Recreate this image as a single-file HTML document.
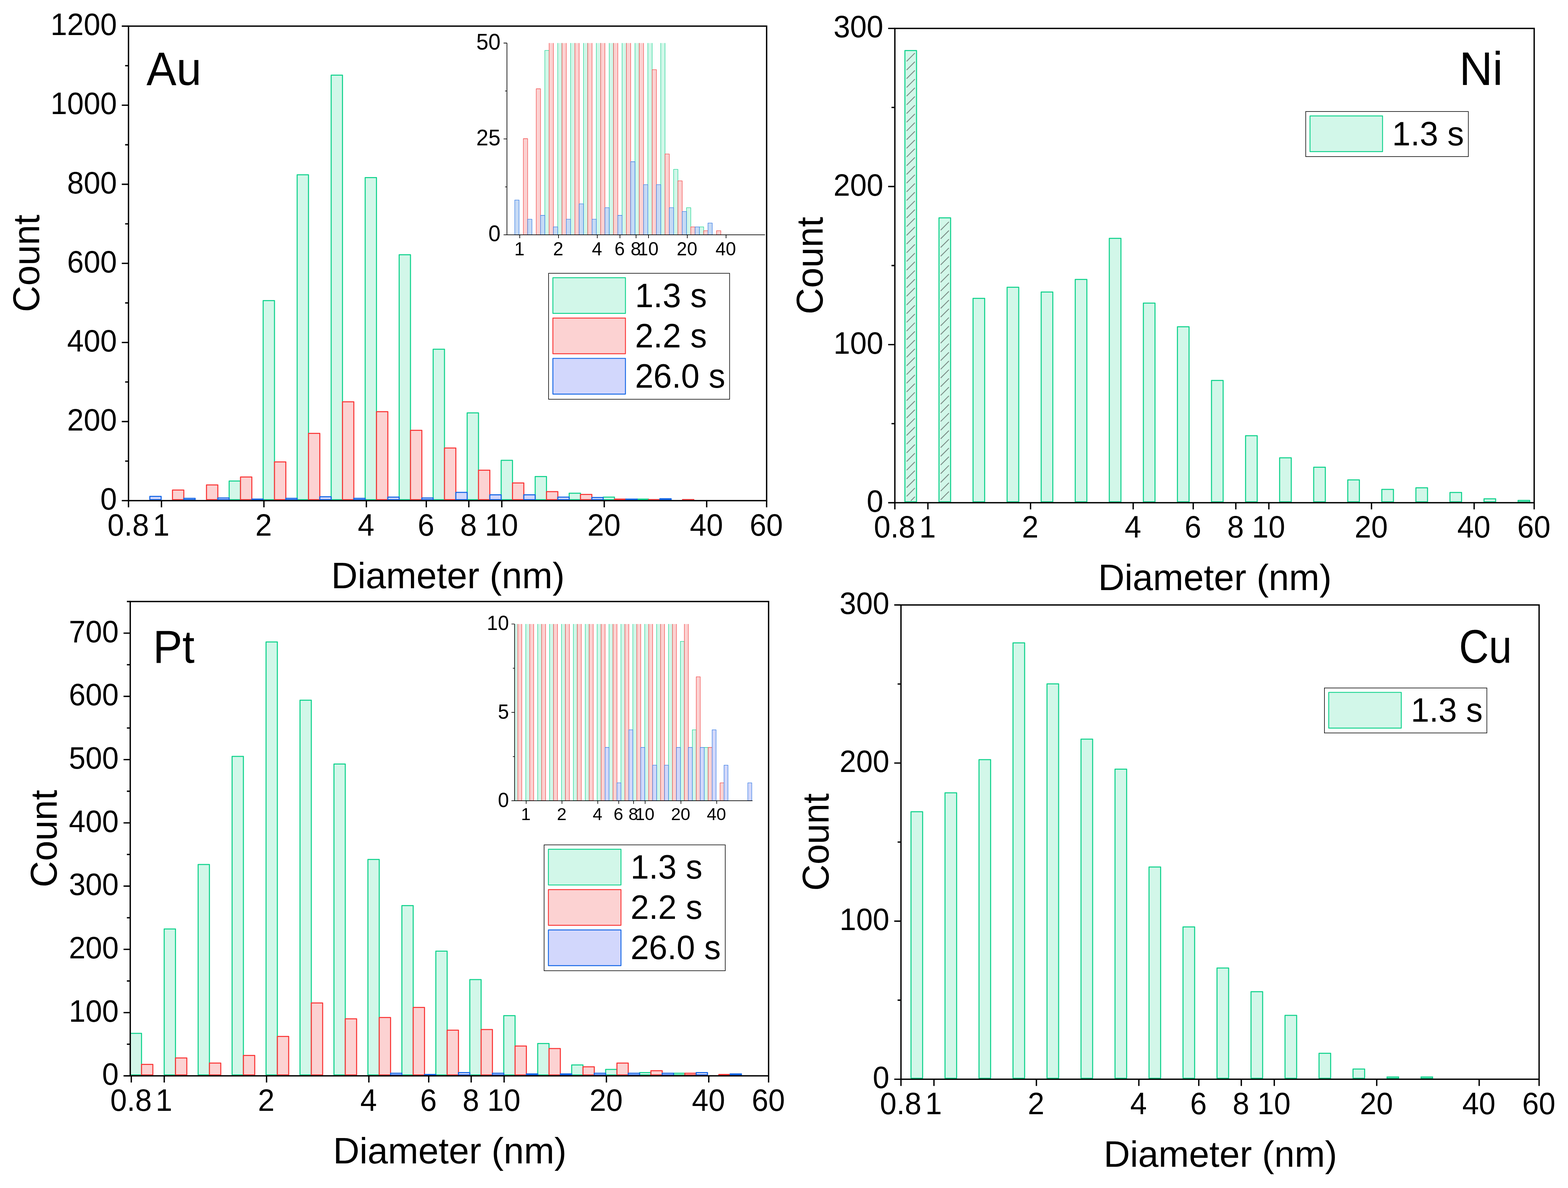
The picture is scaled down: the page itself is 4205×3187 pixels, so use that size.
<!DOCTYPE html>
<html lang="en"><head><meta charset="utf-8"><title>Particle diameter histograms: Au, Ni, Pt, Cu</title>
<style>html,body{margin:0;padding:0;background:#fff}svg{display:block}text{font-family:"Liberation Sans", Arial, sans-serif;fill:#000}</style>
</head><body>
<svg xmlns="http://www.w3.org/2000/svg" width="4205" height="3187" viewBox="0 0 4205 3187">
<rect width="4205" height="3187" fill="#fff"/>
<defs>
<clipPath id="c_au"><rect x="344.6" y="70.1" width="1711.3" height="1274.95"/></clipPath>
<clipPath id="c_pt"><rect x="349.3" y="1613.65" width="1711.9" height="1274.45"/></clipPath>
<clipPath id="c_ni"><rect x="2399.8" y="76.25" width="1714.5" height="1274.35"/></clipPath>
<clipPath id="c_cu"><rect x="2416.2" y="1622.9" width="1711.3" height="1274.3"/></clipPath>
</defs>
<g id="panel-au">
<g clip-path="url(#c_au)" stroke-width="2.75" stroke-linejoin="round">
<g fill="#D2F7E9" stroke="#0FD28C">
<rect x="614.54" y="1290.26" width="30.39" height="50.19"/>
<rect x="705.72" y="806.33" width="30.39" height="534.12"/>
<rect x="796.9" y="468.98" width="30.39" height="871.47"/>
<rect x="888.09" y="201.65" width="30.39" height="1138.8"/>
<rect x="979.27" y="476.4" width="30.39" height="864.05"/>
<rect x="1070.46" y="683.25" width="30.39" height="657.2"/>
<rect x="1161.64" y="936.82" width="30.39" height="403.63"/>
<rect x="1252.82" y="1107.55" width="30.39" height="232.9"/>
<rect x="1344.01" y="1234.87" width="30.39" height="105.58"/>
<rect x="1435.19" y="1278.29" width="30.39" height="62.16"/>
<rect x="1526.38" y="1323.09" width="30.39" height="17.36"/>
<rect x="1617.56" y="1333.69" width="30.39" height="6.76"/>
<rect x="1708.75" y="1338.98" width="30.39" height="1.47"/>
</g>
<g fill="#FCD2D2" stroke="#FA3434">
<rect x="462.56" y="1314.62" width="30.39" height="25.83"/>
<rect x="553.75" y="1300.85" width="30.39" height="39.6"/>
<rect x="644.93" y="1279.67" width="30.39" height="60.78"/>
<rect x="736.11" y="1239.1" width="30.39" height="101.35"/>
<rect x="827.3" y="1162.74" width="30.39" height="177.71"/>
<rect x="918.48" y="1077.9" width="30.39" height="262.55"/>
<rect x="1009.67" y="1104.38" width="30.39" height="236.07"/>
<rect x="1100.85" y="1154.26" width="30.39" height="186.19"/>
<rect x="1192.04" y="1201.93" width="30.39" height="138.52"/>
<rect x="1283.22" y="1261.34" width="30.39" height="79.11"/>
<rect x="1374.4" y="1295.56" width="30.39" height="44.89"/>
<rect x="1465.59" y="1318.86" width="30.39" height="21.59"/>
<rect x="1556.77" y="1326.27" width="30.39" height="14.18"/>
<rect x="1647.96" y="1338.98" width="30.39" height="1.47"/>
<rect x="1739.14" y="1340.04" width="30.39" height="0.41"/>
<rect x="1830.32" y="1340.04" width="30.39" height="0.41"/>
</g>
<g fill="#D2D7FC" stroke="#1064E6">
<rect x="401.77" y="1331.57" width="30.39" height="8.88"/>
<rect x="492.96" y="1336.86" width="30.39" height="3.59"/>
<rect x="584.14" y="1335.8" width="30.39" height="4.65"/>
<rect x="675.32" y="1338.98" width="30.39" height="1.47"/>
<rect x="766.51" y="1336.86" width="30.39" height="3.59"/>
<rect x="857.69" y="1332.63" width="30.39" height="7.82"/>
<rect x="948.88" y="1336.86" width="30.39" height="3.59"/>
<rect x="1040.06" y="1333.69" width="30.39" height="6.76"/>
<rect x="1131.25" y="1335.8" width="30.39" height="4.65"/>
<rect x="1222.43" y="1320.98" width="30.39" height="19.47"/>
<rect x="1313.61" y="1327.33" width="30.39" height="13.12"/>
<rect x="1404.8" y="1327.33" width="30.39" height="13.12"/>
<rect x="1495.98" y="1333.69" width="30.39" height="6.76"/>
<rect x="1587.17" y="1334.74" width="30.39" height="5.71"/>
<rect x="1678.35" y="1338.98" width="30.39" height="1.47"/>
<rect x="1769.54" y="1337.92" width="30.39" height="2.53"/>
</g>
</g>
<g stroke="#000" stroke-width="3.6" fill="none">
<rect x="344.6" y="70.1" width="1711.3" height="1272.95"/>
<path d="M344.6 1343.05v18M433.05 1343.05v18M707.79 1343.05v18M982.52 1343.05v18M1143.24 1343.05v18M1257.26 1343.05v18M1345.71 1343.05v18M1620.45 1343.05v18M1895.19 1343.05v18M2055.9 1343.05v18M344.6 1343.05h-18M344.6 1236.97h-9M344.6 1130.89h-18M344.6 1024.81h-9M344.6 918.73h-18M344.6 812.65h-9M344.6 706.57h-18M344.6 600.5h-9M344.6 494.42h-18M344.6 388.34h-9M344.6 282.26h-18M344.6 176.18h-9M344.6 70.1h-18"/>
</g>
<text transform="translate(343.8 1436.55) scale(1 1.04)" font-size="80" text-anchor="middle">0.8</text>
<text transform="translate(432.25 1436.55) scale(1 1.04)" font-size="80" text-anchor="middle">1</text>
<text transform="translate(706.99 1436.55) scale(1 1.04)" font-size="80" text-anchor="middle">2</text>
<text transform="translate(981.72 1436.55) scale(1 1.04)" font-size="80" text-anchor="middle">4</text>
<text transform="translate(1142.44 1436.55) scale(1 1.04)" font-size="80" text-anchor="middle">6</text>
<text transform="translate(1256.46 1436.55) scale(1 1.04)" font-size="80" text-anchor="middle">8</text>
<text transform="translate(1344.91 1436.55) scale(1 1.04)" font-size="80" text-anchor="middle">10</text>
<text transform="translate(1619.65 1436.55) scale(1 1.04)" font-size="80" text-anchor="middle">20</text>
<text transform="translate(1894.39 1436.55) scale(1 1.04)" font-size="80" text-anchor="middle">40</text>
<text transform="translate(2055.1 1436.55) scale(1 1.04)" font-size="80" text-anchor="middle">60</text>
<text transform="translate(313.5 1367.25) scale(1 1.04)" font-size="80" text-anchor="end">0</text>
<text transform="translate(313.5 1155.09) scale(1 1.04)" font-size="80" text-anchor="end">200</text>
<text transform="translate(313.5 942.93) scale(1 1.04)" font-size="80" text-anchor="end">400</text>
<text transform="translate(313.5 730.77) scale(1 1.04)" font-size="80" text-anchor="end">600</text>
<text transform="translate(313.5 518.62) scale(1 1.04)" font-size="80" text-anchor="end">800</text>
<text transform="translate(313.5 306.46) scale(1 1.04)" font-size="80" text-anchor="end">1000</text>
<text transform="translate(313.5 94.3) scale(1 1.04)" font-size="80" text-anchor="end">1200</text>
<text transform="translate(1201.25 1577.55) scale(1 1.01)" font-size="98" text-anchor="middle">Diameter (nm)</text>
<text transform="translate(105.3 706.57) rotate(-90) scale(1 1.025)" font-size="98" text-anchor="middle">Count</text>
<text transform="translate(392.76 228.14) scale(1 1.0479)" font-size="120.52" text-anchor="start">Au</text>
<clipPath id="ci_au"><rect x="1359.5" y="115.5" width="692" height="515.4"/></clipPath>
<g clip-path="url(#ci_au)" stroke-width="1.3" stroke-linejoin="round">
<g fill="#D2F7E9" stroke="#22D494">
<rect x="1461.08" y="135.38" width="11.51" height="494.22"/>
<rect x="1495.62" y="11.92" width="11.51" height="617.68"/>
<rect x="1530.16" y="11.92" width="11.51" height="617.68"/>
<rect x="1564.7" y="11.92" width="11.51" height="617.68"/>
<rect x="1599.24" y="11.92" width="11.51" height="617.68"/>
<rect x="1633.78" y="11.92" width="11.51" height="617.68"/>
<rect x="1668.32" y="11.92" width="11.51" height="617.68"/>
<rect x="1702.86" y="11.92" width="11.51" height="617.68"/>
<rect x="1737.4" y="11.92" width="11.51" height="617.68"/>
<rect x="1771.94" y="19.12" width="11.51" height="610.48"/>
<rect x="1806.48" y="454.3" width="11.51" height="175.3"/>
<rect x="1841.02" y="557.18" width="11.51" height="72.42"/>
<rect x="1875.56" y="608.62" width="11.51" height="20.98"/>
</g>
<g fill="#FCD2D2" stroke="#F24A4A">
<rect x="1403.51" y="372" width="11.51" height="257.6"/>
<rect x="1438.05" y="238.26" width="11.51" height="391.34"/>
<rect x="1472.59" y="32.5" width="11.51" height="597.1"/>
<rect x="1507.13" y="11.92" width="11.51" height="617.68"/>
<rect x="1541.67" y="11.92" width="11.51" height="617.68"/>
<rect x="1576.21" y="11.92" width="11.51" height="617.68"/>
<rect x="1610.75" y="11.92" width="11.51" height="617.68"/>
<rect x="1645.29" y="11.92" width="11.51" height="617.68"/>
<rect x="1679.83" y="11.92" width="11.51" height="617.68"/>
<rect x="1714.37" y="11.92" width="11.51" height="617.68"/>
<rect x="1748.91" y="186.82" width="11.51" height="442.78"/>
<rect x="1783.45" y="413.15" width="11.51" height="216.45"/>
<rect x="1817.99" y="485.17" width="11.51" height="144.43"/>
<rect x="1852.53" y="608.62" width="11.51" height="20.98"/>
<rect x="1887.07" y="618.91" width="11.51" height="10.69"/>
<rect x="1921.61" y="618.91" width="11.51" height="10.69"/>
</g>
<g fill="#C6DAF5" stroke="#3A7EE6">
<rect x="1380.49" y="536.61" width="11.51" height="92.99"/>
<rect x="1415.03" y="588.05" width="11.51" height="41.55"/>
<rect x="1449.57" y="577.76" width="11.51" height="51.84"/>
<rect x="1484.11" y="608.62" width="11.51" height="20.98"/>
<rect x="1518.65" y="588.05" width="11.51" height="41.55"/>
<rect x="1553.19" y="546.9" width="11.51" height="82.7"/>
<rect x="1587.73" y="588.05" width="11.51" height="41.55"/>
<rect x="1622.27" y="557.18" width="11.51" height="72.42"/>
<rect x="1656.81" y="577.76" width="11.51" height="51.84"/>
<rect x="1691.35" y="433.73" width="11.51" height="195.87"/>
<rect x="1725.89" y="495.46" width="11.51" height="134.14"/>
<rect x="1760.43" y="495.46" width="11.51" height="134.14"/>
<rect x="1794.97" y="557.18" width="11.51" height="72.42"/>
<rect x="1829.51" y="567.47" width="11.51" height="62.13"/>
<rect x="1864.05" y="608.62" width="11.51" height="20.98"/>
<rect x="1898.59" y="598.34" width="11.51" height="31.26"/>
</g>
</g>
<path d="M1359.5 115.5V629.9M1350.5 629.9H2051.5M1393.8 629.9v9M1497.78 629.9v9M1601.75 629.9v9M1662.57 629.9v9M1705.73 629.9v9M1739.2 629.9v9M1843.18 629.9v9M1947.15 629.9v9M1359.5 372.7h-9M1359.5 115.5h-9M1359.5 501.3h-5M1359.5 244.1h-5" stroke="#000" stroke-width="1.8" fill="none"/>
<text transform="translate(1393 685.1)" font-size="49.5" text-anchor="middle">1</text>
<text transform="translate(1496.98 685.1)" font-size="49.5" text-anchor="middle">2</text>
<text transform="translate(1600.95 685.1)" font-size="49.5" text-anchor="middle">4</text>
<text transform="translate(1661.77 685.1)" font-size="49.5" text-anchor="middle">6</text>
<text transform="translate(1704.93 685.1)" font-size="49.5" text-anchor="middle">8</text>
<text transform="translate(1738.4 685.1)" font-size="49.5" text-anchor="middle">10</text>
<text transform="translate(1842.38 685.1)" font-size="49.5" text-anchor="middle">20</text>
<text transform="translate(1946.35 685.1)" font-size="49.5" text-anchor="middle">40</text>
<text transform="translate(1342.2 647.2) scale(1 1.04)" font-size="58.5" text-anchor="end">0</text>
<text transform="translate(1342.2 390) scale(1 1.04)" font-size="58.5" text-anchor="end">25</text>
<text transform="translate(1342.2 132.8) scale(1 1.04)" font-size="58.5" text-anchor="end">50</text>
<rect x="1471.2" y="733.2" width="485.4" height="337.9" fill="#fff" stroke="#000" stroke-width="1.6"/>
<rect x="1482.7" y="745" width="194.6" height="95.8" fill="#D2F7E9" stroke="#0FD28C" stroke-width="2.4" stroke-linejoin="round"/>
<text transform="translate(1702.9 823.5) scale(1 1.03)" font-size="88.9" text-anchor="start">1.3 s</text>
<rect x="1482.7" y="853.2" width="194.6" height="95.8" fill="#FCD2D2" stroke="#FA3434" stroke-width="2.4" stroke-linejoin="round"/>
<text transform="translate(1702.9 931.7) scale(1 1.03)" font-size="88.9" text-anchor="start">2.2 s</text>
<rect x="1482.7" y="961.4" width="194.6" height="95.8" fill="#D2D7FC" stroke="#1064E6" stroke-width="2.4" stroke-linejoin="round"/>
<text transform="translate(1702.9 1039.9) scale(1 1.03)" font-size="88.9" text-anchor="start">26.0 s</text>
</g>
<g id="panel-pt">
<g clip-path="url(#c_pt)" stroke-width="2.75" stroke-linejoin="round">
<g fill="#D2F7E9" stroke="#0FD28C">
<rect x="349.2" y="2772.01" width="30.36" height="111.49"/>
<rect x="440.27" y="2492.16" width="30.36" height="391.34"/>
<rect x="531.33" y="2319.2" width="30.36" height="564.3"/>
<rect x="622.4" y="2029.19" width="30.36" height="854.31"/>
<rect x="713.46" y="1722.24" width="30.36" height="1161.26"/>
<rect x="804.53" y="1878.25" width="30.36" height="1005.25"/>
<rect x="895.6" y="2049.52" width="30.36" height="833.98"/>
<rect x="986.66" y="2305.65" width="30.36" height="577.85"/>
<rect x="1077.73" y="2429.48" width="30.36" height="454.02"/>
<rect x="1168.79" y="2551.62" width="30.36" height="331.88"/>
<rect x="1259.86" y="2627.85" width="30.36" height="255.65"/>
<rect x="1350.93" y="2724.58" width="30.36" height="158.92"/>
<rect x="1441.99" y="2799.28" width="30.36" height="84.22"/>
<rect x="1533.06" y="2856.88" width="30.36" height="26.62"/>
<rect x="1624.13" y="2868.9" width="30.36" height="14.6"/>
<rect x="1715.19" y="2877.37" width="30.36" height="6.13"/>
<rect x="1806.26" y="2879.07" width="30.36" height="4.43"/>
</g>
<g fill="#FCD2D2" stroke="#FA3434">
<rect x="379.56" y="2855.35" width="30.36" height="28.15"/>
<rect x="470.62" y="2838.24" width="30.36" height="45.26"/>
<rect x="561.69" y="2851.79" width="30.36" height="31.71"/>
<rect x="652.75" y="2831.47" width="30.36" height="52.03"/>
<rect x="743.82" y="2780.48" width="30.36" height="103.02"/>
<rect x="834.89" y="2690.7" width="30.36" height="192.8"/>
<rect x="925.95" y="2733.05" width="30.36" height="150.45"/>
<rect x="1017.02" y="2729.66" width="30.36" height="153.84"/>
<rect x="1108.08" y="2702.55" width="30.36" height="180.95"/>
<rect x="1199.15" y="2763.54" width="30.36" height="119.96"/>
<rect x="1290.22" y="2761.84" width="30.36" height="121.66"/>
<rect x="1381.28" y="2806.06" width="30.36" height="77.44"/>
<rect x="1472.35" y="2812.83" width="30.36" height="70.67"/>
<rect x="1563.41" y="2861.96" width="30.36" height="21.54"/>
<rect x="1654.48" y="2851.79" width="30.36" height="31.71"/>
<rect x="1745.55" y="2872.29" width="30.36" height="11.21"/>
<rect x="1836.61" y="2879.07" width="30.36" height="4.43"/>
<rect x="1927.68" y="2882.46" width="30.36" height="1.04"/>
</g>
<g fill="#D2D7FC" stroke="#1064E6">
<rect x="1047.37" y="2879.07" width="30.36" height="4.43"/>
<rect x="1138.44" y="2882.46" width="30.36" height="1.04"/>
<rect x="1229.51" y="2877.37" width="30.36" height="6.13"/>
<rect x="1320.57" y="2879.07" width="30.36" height="4.43"/>
<rect x="1411.64" y="2880.76" width="30.36" height="2.74"/>
<rect x="1502.7" y="2880.76" width="30.36" height="2.74"/>
<rect x="1593.77" y="2879.07" width="30.36" height="4.43"/>
<rect x="1684.84" y="2879.07" width="30.36" height="4.43"/>
<rect x="1775.9" y="2879.07" width="30.36" height="4.43"/>
<rect x="1866.97" y="2877.37" width="30.36" height="6.13"/>
<rect x="1958.03" y="2880.76" width="30.36" height="2.74"/>
<rect x="2140.17" y="2882.46" width="30.36" height="1.04"/>
</g>
</g>
<g stroke="#000" stroke-width="3.6" fill="none">
<rect x="349.3" y="1613.65" width="1711.9" height="1272.45"/>
<path d="M352.12 2886.1v18M440.45 2886.1v18M714.83 2886.1v18M989.21 2886.1v18M1149.72 2886.1v18M1263.6 2886.1v18M1351.93 2886.1v18M1626.31 2886.1v18M1900.7 2886.1v18M2061.2 2886.1v18M349.3 2886.1h-18M349.3 2801.27h-9M349.3 2716.44h-18M349.3 2631.61h-9M349.3 2546.78h-18M349.3 2461.95h-9M349.3 2377.12h-18M349.3 2292.29h-9M349.3 2207.46h-18M349.3 2122.63h-9M349.3 2037.8h-18M349.3 1952.97h-9M349.3 1868.14h-18M349.3 1783.31h-9M349.3 1698.48h-18M349.3 1613.65h-9"/>
</g>
<text transform="translate(351.32 2979.6) scale(1 1.04)" font-size="80" text-anchor="middle">0.8</text>
<text transform="translate(439.65 2979.6) scale(1 1.04)" font-size="80" text-anchor="middle">1</text>
<text transform="translate(714.03 2979.6) scale(1 1.04)" font-size="80" text-anchor="middle">2</text>
<text transform="translate(988.41 2979.6) scale(1 1.04)" font-size="80" text-anchor="middle">4</text>
<text transform="translate(1148.92 2979.6) scale(1 1.04)" font-size="80" text-anchor="middle">6</text>
<text transform="translate(1262.8 2979.6) scale(1 1.04)" font-size="80" text-anchor="middle">8</text>
<text transform="translate(1351.13 2979.6) scale(1 1.04)" font-size="80" text-anchor="middle">10</text>
<text transform="translate(1625.51 2979.6) scale(1 1.04)" font-size="80" text-anchor="middle">20</text>
<text transform="translate(1899.9 2979.6) scale(1 1.04)" font-size="80" text-anchor="middle">40</text>
<text transform="translate(2060.4 2979.6) scale(1 1.04)" font-size="80" text-anchor="middle">60</text>
<text transform="translate(318.2 2910.3) scale(1 1.04)" font-size="80" text-anchor="end">0</text>
<text transform="translate(318.2 2740.64) scale(1 1.04)" font-size="80" text-anchor="end">100</text>
<text transform="translate(318.2 2570.98) scale(1 1.04)" font-size="80" text-anchor="end">200</text>
<text transform="translate(318.2 2401.32) scale(1 1.04)" font-size="80" text-anchor="end">300</text>
<text transform="translate(318.2 2231.66) scale(1 1.04)" font-size="80" text-anchor="end">400</text>
<text transform="translate(318.2 2062) scale(1 1.04)" font-size="80" text-anchor="end">500</text>
<text transform="translate(318.2 1892.34) scale(1 1.04)" font-size="80" text-anchor="end">600</text>
<text transform="translate(318.2 1722.68) scale(1 1.04)" font-size="80" text-anchor="end">700</text>
<text transform="translate(1206.25 3120.6) scale(1 1.01)" font-size="98" text-anchor="middle">Diameter (nm)</text>
<text transform="translate(152.3 2249.88) rotate(-90) scale(1 1.025)" font-size="98" text-anchor="middle">Count</text>
<text transform="translate(410.15 1777.79) scale(1 1.058)" font-size="118.12" text-anchor="start">Pt</text>
<clipPath id="ci_pt"><rect x="1380" y="1674" width="638" height="475.2"/></clipPath>
<g clip-path="url(#ci_pt)" stroke-width="1.3" stroke-linejoin="round">
<g fill="#D2F7E9" stroke="#22D494">
<rect x="1378.1" y="1578.46" width="10.63" height="569.44"/>
<rect x="1410" y="1578.46" width="10.63" height="569.44"/>
<rect x="1441.9" y="1578.46" width="10.63" height="569.44"/>
<rect x="1473.8" y="1578.46" width="10.63" height="569.44"/>
<rect x="1505.7" y="1578.46" width="10.63" height="569.44"/>
<rect x="1537.6" y="1578.46" width="10.63" height="569.44"/>
<rect x="1569.5" y="1578.46" width="10.63" height="569.44"/>
<rect x="1601.4" y="1578.46" width="10.63" height="569.44"/>
<rect x="1633.3" y="1578.46" width="10.63" height="569.44"/>
<rect x="1665.2" y="1578.46" width="10.63" height="569.44"/>
<rect x="1697.1" y="1578.46" width="10.63" height="569.44"/>
<rect x="1729" y="1578.46" width="10.63" height="569.44"/>
<rect x="1760.9" y="1578.46" width="10.63" height="569.44"/>
<rect x="1792.8" y="1578.46" width="10.63" height="569.44"/>
<rect x="1824.7" y="1720.72" width="10.63" height="427.18"/>
<rect x="1856.6" y="1957.82" width="10.63" height="190.08"/>
<rect x="1888.5" y="2005.24" width="10.63" height="142.66"/>
</g>
<g fill="#FCD2D2" stroke="#F24A4A">
<rect x="1388.73" y="1578.46" width="10.63" height="569.44"/>
<rect x="1420.63" y="1578.46" width="10.63" height="569.44"/>
<rect x="1452.53" y="1578.46" width="10.63" height="569.44"/>
<rect x="1484.43" y="1578.46" width="10.63" height="569.44"/>
<rect x="1516.33" y="1578.46" width="10.63" height="569.44"/>
<rect x="1548.23" y="1578.46" width="10.63" height="569.44"/>
<rect x="1580.13" y="1578.46" width="10.63" height="569.44"/>
<rect x="1612.03" y="1578.46" width="10.63" height="569.44"/>
<rect x="1643.93" y="1578.46" width="10.63" height="569.44"/>
<rect x="1675.83" y="1578.46" width="10.63" height="569.44"/>
<rect x="1707.73" y="1578.46" width="10.63" height="569.44"/>
<rect x="1739.63" y="1578.46" width="10.63" height="569.44"/>
<rect x="1771.53" y="1578.46" width="10.63" height="569.44"/>
<rect x="1803.43" y="1578.46" width="10.63" height="569.44"/>
<rect x="1835.33" y="1578.46" width="10.63" height="569.44"/>
<rect x="1867.23" y="1815.56" width="10.63" height="332.34"/>
<rect x="1899.13" y="2005.24" width="10.63" height="142.66"/>
<rect x="1931.03" y="2100.08" width="10.63" height="47.82"/>
</g>
<g fill="#D2D8FA" stroke="#3A7EE6">
<rect x="1622.67" y="2005.24" width="10.63" height="142.66"/>
<rect x="1654.57" y="2100.08" width="10.63" height="47.82"/>
<rect x="1686.47" y="1957.82" width="10.63" height="190.08"/>
<rect x="1718.37" y="2005.24" width="10.63" height="142.66"/>
<rect x="1750.27" y="2052.66" width="10.63" height="95.24"/>
<rect x="1782.17" y="2052.66" width="10.63" height="95.24"/>
<rect x="1814.07" y="2005.24" width="10.63" height="142.66"/>
<rect x="1845.97" y="2005.24" width="10.63" height="142.66"/>
<rect x="1877.87" y="2005.24" width="10.63" height="142.66"/>
<rect x="1909.77" y="1957.82" width="10.63" height="190.08"/>
<rect x="1941.67" y="2052.66" width="10.63" height="95.24"/>
<rect x="2005.47" y="2100.08" width="10.63" height="47.82"/>
</g>
</g>
<path d="M1380 1674V2148.2M1371.6 2148.2H2018M1411.1 2148.2v8.4M1507.13 2148.2v8.4M1603.16 2148.2v8.4M1659.33 2148.2v8.4M1699.19 2148.2v8.4M1730.1 2148.2v8.4M1826.13 2148.2v8.4M1922.16 2148.2v8.4M1380 1911.1h-8.4M1380 1674h-8.4M1380 2029.65h-4.6M1380 1792.55h-4.6" stroke="#000" stroke-width="1.7" fill="none"/>
<text transform="translate(1410.3 2200.1)" font-size="46.5" text-anchor="middle">1</text>
<text transform="translate(1506.33 2200.1)" font-size="46.5" text-anchor="middle">2</text>
<text transform="translate(1602.36 2200.1)" font-size="46.5" text-anchor="middle">4</text>
<text transform="translate(1658.53 2200.1)" font-size="46.5" text-anchor="middle">6</text>
<text transform="translate(1698.39 2200.1)" font-size="46.5" text-anchor="middle">8</text>
<text transform="translate(1729.3 2200.1)" font-size="46.5" text-anchor="middle">10</text>
<text transform="translate(1825.33 2200.1)" font-size="46.5" text-anchor="middle">20</text>
<text transform="translate(1921.36 2200.1)" font-size="46.5" text-anchor="middle">40</text>
<text transform="translate(1364.8 2164.6) scale(1 1.04)" font-size="53.3" text-anchor="end">0</text>
<text transform="translate(1364.8 1927.5) scale(1 1.04)" font-size="53.3" text-anchor="end">5</text>
<text transform="translate(1364.8 1690.4) scale(1 1.04)" font-size="53.3" text-anchor="end">10</text>
<rect x="1459.2" y="2266.5" width="485.7" height="337.7" fill="#fff" stroke="#000" stroke-width="1.6"/>
<rect x="1470.7" y="2278.3" width="194.6" height="95.8" fill="#D2F7E9" stroke="#0FD28C" stroke-width="2.4" stroke-linejoin="round"/>
<text transform="translate(1690.9 2356.8) scale(1 1.03)" font-size="88.9" text-anchor="start">1.3 s</text>
<rect x="1470.7" y="2386.5" width="194.6" height="95.8" fill="#FCD2D2" stroke="#FA3434" stroke-width="2.4" stroke-linejoin="round"/>
<text transform="translate(1690.9 2465) scale(1 1.03)" font-size="88.9" text-anchor="start">2.2 s</text>
<rect x="1470.7" y="2494.7" width="194.6" height="95.8" fill="#D2D7FC" stroke="#1064E6" stroke-width="2.4" stroke-linejoin="round"/>
<text transform="translate(1690.9 2573.2) scale(1 1.03)" font-size="88.9" text-anchor="start">26.0 s</text>
</g>
<g id="panel-ni">
<g clip-path="url(#c_ni)" stroke-width="2.75" stroke="#0FD28C" stroke-linejoin="round">
<rect x="2426.75" y="135.54" width="31.2" height="1210.46" fill="#D2F7E9"/>
<path d="M2431.95 163.78L2452.75 142.98M2431.95 187.12L2452.75 166.32M2431.95 210.46L2452.75 189.66M2431.95 233.8L2452.75 213M2431.95 257.14L2452.75 236.34M2431.95 280.48L2452.75 259.68M2431.95 303.82L2452.75 283.02M2431.95 327.16L2452.75 306.36M2431.95 350.5L2452.75 329.7M2431.95 373.84L2452.75 353.04M2431.95 397.18L2452.75 376.38M2431.95 420.52L2452.75 399.72M2431.95 443.86L2452.75 423.06M2431.95 467.2L2452.75 446.4M2431.95 490.54L2452.75 469.74M2431.95 513.88L2452.75 493.08M2431.95 537.22L2452.75 516.42M2431.95 560.56L2452.75 539.76M2431.95 583.9L2452.75 563.1M2431.95 607.24L2452.75 586.44M2431.95 630.58L2452.75 609.78M2431.95 653.92L2452.75 633.12M2431.95 677.26L2452.75 656.46M2431.95 700.6L2452.75 679.8M2431.95 723.94L2452.75 703.14M2431.95 747.28L2452.75 726.48M2431.95 770.62L2452.75 749.82M2431.95 793.96L2452.75 773.16M2431.95 817.3L2452.75 796.5M2431.95 840.64L2452.75 819.84M2431.95 863.98L2452.75 843.18M2431.95 887.32L2452.75 866.52M2431.95 910.66L2452.75 889.86M2431.95 934L2452.75 913.2M2431.95 957.34L2452.75 936.54M2431.95 980.68L2452.75 959.88M2431.95 1004.02L2452.75 983.22M2431.95 1027.36L2452.75 1006.56M2431.95 1050.7L2452.75 1029.9M2431.95 1074.04L2452.75 1053.24M2431.95 1097.38L2452.75 1076.58M2431.95 1120.72L2452.75 1099.92M2431.95 1144.06L2452.75 1123.26M2431.95 1167.4L2452.75 1146.6M2431.95 1190.74L2452.75 1169.94M2431.95 1214.08L2452.75 1193.28M2431.95 1237.42L2452.75 1216.62M2431.95 1260.76L2452.75 1239.96M2431.95 1284.1L2452.75 1263.3M2431.95 1307.44L2452.75 1286.64M2431.95 1330.78L2452.75 1309.98M2443.27 1342.8L2452.75 1333.32" fill="none" stroke="#7C8C86" stroke-width="2.4" stroke-linecap="round"/>
<rect x="2518.11" y="584.41" width="31.2" height="761.59" fill="#D2F7E9"/>
<path d="M2523.31 616.54L2544.11 595.74M2523.31 639.88L2544.11 619.08M2523.31 663.22L2544.11 642.42M2523.31 686.56L2544.11 665.76M2523.31 709.9L2544.11 689.1M2523.31 733.24L2544.11 712.44M2523.31 756.58L2544.11 735.78M2523.31 779.92L2544.11 759.12M2523.31 803.26L2544.11 782.46M2523.31 826.6L2544.11 805.8M2523.31 849.94L2544.11 829.14M2523.31 873.28L2544.11 852.48M2523.31 896.62L2544.11 875.82M2523.31 919.96L2544.11 899.16M2523.31 943.3L2544.11 922.5M2523.31 966.64L2544.11 945.84M2523.31 989.98L2544.11 969.18M2523.31 1013.32L2544.11 992.52M2523.31 1036.66L2544.11 1015.86M2523.31 1060L2544.11 1039.2M2523.31 1083.34L2544.11 1062.54M2523.31 1106.68L2544.11 1085.88M2523.31 1130.02L2544.11 1109.22M2523.31 1153.36L2544.11 1132.56M2523.31 1176.7L2544.11 1155.9M2523.31 1200.04L2544.11 1179.24M2523.31 1223.38L2544.11 1202.58M2523.31 1246.72L2544.11 1225.92M2523.31 1270.06L2544.11 1249.26M2523.31 1293.4L2544.11 1272.6M2523.31 1316.74L2544.11 1295.94M2523.31 1340.08L2544.11 1319.28" fill="none" stroke="#7C8C86" stroke-width="2.4" stroke-linecap="round"/>
<rect x="2609.46" y="800.38" width="31.2" height="545.62" fill="#D2F7E9"/>
<rect x="2700.82" y="770.74" width="31.2" height="575.26" fill="#D2F7E9"/>
<rect x="2792.17" y="783.44" width="31.2" height="562.56" fill="#D2F7E9"/>
<rect x="2883.53" y="749.56" width="31.2" height="596.44" fill="#D2F7E9"/>
<rect x="2974.88" y="639.46" width="31.2" height="706.54" fill="#D2F7E9"/>
<rect x="3066.24" y="813.08" width="31.2" height="532.92" fill="#D2F7E9"/>
<rect x="3157.59" y="876.6" width="31.2" height="469.4" fill="#D2F7E9"/>
<rect x="3248.95" y="1020.58" width="31.2" height="325.42" fill="#D2F7E9"/>
<rect x="3340.3" y="1168.79" width="31.2" height="177.21" fill="#D2F7E9"/>
<rect x="3431.66" y="1228.08" width="31.2" height="117.92" fill="#D2F7E9"/>
<rect x="3523.01" y="1253.49" width="31.2" height="92.51" fill="#D2F7E9"/>
<rect x="3614.37" y="1287.36" width="31.2" height="58.64" fill="#D2F7E9"/>
<rect x="3705.72" y="1312.77" width="31.2" height="33.23" fill="#D2F7E9"/>
<rect x="3797.08" y="1308.54" width="31.2" height="37.46" fill="#D2F7E9"/>
<rect x="3888.43" y="1321.24" width="31.2" height="24.76" fill="#D2F7E9"/>
<rect x="3979.78" y="1338.18" width="31.2" height="7.82" fill="#D2F7E9"/>
<rect x="4071.14" y="1342.42" width="31.2" height="3.58" fill="#D2F7E9"/>
</g>
<g stroke="#000" stroke-width="3.6" fill="none">
<rect x="2399.8" y="76.25" width="1714.5" height="1272.35"/>
<path d="M2399.8 1348.6v18M2488.41 1348.6v18M2763.66 1348.6v18M3038.92 1348.6v18M3199.93 1348.6v18M3314.17 1348.6v18M3402.78 1348.6v18M3678.03 1348.6v18M3953.29 1348.6v18M4114.3 1348.6v18M2399.8 1348.6h-18M2399.8 1136.54h-9M2399.8 924.48h-18M2399.8 712.42h-9M2399.8 500.37h-18M2399.8 288.31h-9M2399.8 76.25h-18"/>
</g>
<text transform="translate(2399 1442.1) scale(1 1.04)" font-size="80" text-anchor="middle">0.8</text>
<text transform="translate(2487.61 1442.1) scale(1 1.04)" font-size="80" text-anchor="middle">1</text>
<text transform="translate(2762.86 1442.1) scale(1 1.04)" font-size="80" text-anchor="middle">2</text>
<text transform="translate(3038.12 1442.1) scale(1 1.04)" font-size="80" text-anchor="middle">4</text>
<text transform="translate(3199.13 1442.1) scale(1 1.04)" font-size="80" text-anchor="middle">6</text>
<text transform="translate(3313.37 1442.1) scale(1 1.04)" font-size="80" text-anchor="middle">8</text>
<text transform="translate(3401.98 1442.1) scale(1 1.04)" font-size="80" text-anchor="middle">10</text>
<text transform="translate(3677.23 1442.1) scale(1 1.04)" font-size="80" text-anchor="middle">20</text>
<text transform="translate(3952.49 1442.1) scale(1 1.04)" font-size="80" text-anchor="middle">40</text>
<text transform="translate(4113.5 1442.1) scale(1 1.04)" font-size="80" text-anchor="middle">60</text>
<text transform="translate(2368.7 1372.8) scale(1 1.04)" font-size="80" text-anchor="end">0</text>
<text transform="translate(2368.7 948.68) scale(1 1.04)" font-size="80" text-anchor="end">100</text>
<text transform="translate(2368.7 524.57) scale(1 1.04)" font-size="80" text-anchor="end">200</text>
<text transform="translate(2368.7 100.45) scale(1 1.04)" font-size="80" text-anchor="end">300</text>
<text transform="translate(3258.05 1583.1) scale(1 1.01)" font-size="98" text-anchor="middle">Diameter (nm)</text>
<text transform="translate(2205.8 712.42) rotate(-90) scale(1 1.025)" font-size="98" text-anchor="middle">Count</text>
<text transform="translate(3913.22 228.3) scale(1 1.0165)" font-size="124.15" text-anchor="start">Ni</text>
<rect x="3501.6" y="299.2" width="436.1" height="120.9" fill="#fff" stroke="#000" stroke-width="1.6"/>
<rect x="3513.1" y="311" width="194.6" height="95.8" fill="#D2F7E9" stroke="#0FD28C" stroke-width="2.4" stroke-linejoin="round"/>
<text transform="translate(3733.3 389.5) scale(1 1.03)" font-size="88.9" text-anchor="start">1.3 s</text>
</g>
<g id="panel-cu">
<g clip-path="url(#c_cu)" stroke-width="2.75" stroke="#0FD28C" stroke-linejoin="round">
<rect x="2443.07" y="2177.62" width="31.2" height="714.98" fill="#D2F7E9"/>
<rect x="2534.26" y="2126.81" width="31.2" height="765.79" fill="#D2F7E9"/>
<rect x="2625.44" y="2037.88" width="31.2" height="854.72" fill="#D2F7E9"/>
<rect x="2716.63" y="1724.53" width="31.2" height="1168.07" fill="#D2F7E9"/>
<rect x="2807.81" y="1834.62" width="31.2" height="1057.97" fill="#D2F7E9"/>
<rect x="2899" y="1982.83" width="31.2" height="909.77" fill="#D2F7E9"/>
<rect x="2990.18" y="2063.29" width="31.2" height="829.31" fill="#D2F7E9"/>
<rect x="3081.36" y="2325.83" width="31.2" height="566.77" fill="#D2F7E9"/>
<rect x="3172.55" y="2486.74" width="31.2" height="405.86" fill="#D2F7E9"/>
<rect x="3263.73" y="2596.84" width="31.2" height="295.76" fill="#D2F7E9"/>
<rect x="3354.92" y="2660.35" width="31.2" height="232.25" fill="#D2F7E9"/>
<rect x="3446.1" y="2723.87" width="31.2" height="168.73" fill="#D2F7E9"/>
<rect x="3537.29" y="2825.5" width="31.2" height="67.1" fill="#D2F7E9"/>
<rect x="3628.47" y="2867.84" width="31.2" height="24.76" fill="#D2F7E9"/>
<rect x="3719.65" y="2889.02" width="31.2" height="3.58" fill="#D2F7E9"/>
<rect x="3810.84" y="2889.02" width="31.2" height="3.58" fill="#D2F7E9"/>
</g>
<g stroke="#000" stroke-width="3.6" fill="none">
<rect x="2416.2" y="1622.9" width="1711.3" height="1272.3"/>
<path d="M2416.2 2895.2v18M2504.65 2895.2v18M2779.39 2895.2v18M3054.12 2895.2v18M3214.84 2895.2v18M3328.86 2895.2v18M3417.31 2895.2v18M3692.05 2895.2v18M3966.79 2895.2v18M4127.5 2895.2v18M2416.2 2895.2h-18M2416.2 2683.15h-9M2416.2 2471.1h-18M2416.2 2259.05h-9M2416.2 2047h-18M2416.2 1834.95h-9M2416.2 1622.9h-18"/>
</g>
<text transform="translate(2415.4 2988.7) scale(1 1.04)" font-size="80" text-anchor="middle">0.8</text>
<text transform="translate(2503.85 2988.7) scale(1 1.04)" font-size="80" text-anchor="middle">1</text>
<text transform="translate(2778.59 2988.7) scale(1 1.04)" font-size="80" text-anchor="middle">2</text>
<text transform="translate(3053.32 2988.7) scale(1 1.04)" font-size="80" text-anchor="middle">4</text>
<text transform="translate(3214.04 2988.7) scale(1 1.04)" font-size="80" text-anchor="middle">6</text>
<text transform="translate(3328.06 2988.7) scale(1 1.04)" font-size="80" text-anchor="middle">8</text>
<text transform="translate(3416.51 2988.7) scale(1 1.04)" font-size="80" text-anchor="middle">10</text>
<text transform="translate(3691.25 2988.7) scale(1 1.04)" font-size="80" text-anchor="middle">20</text>
<text transform="translate(3965.99 2988.7) scale(1 1.04)" font-size="80" text-anchor="middle">40</text>
<text transform="translate(4126.7 2988.7) scale(1 1.04)" font-size="80" text-anchor="middle">60</text>
<text transform="translate(2385.1 2919.4) scale(1 1.04)" font-size="80" text-anchor="end">0</text>
<text transform="translate(2385.1 2495.3) scale(1 1.04)" font-size="80" text-anchor="end">100</text>
<text transform="translate(2385.1 2071.2) scale(1 1.04)" font-size="80" text-anchor="end">200</text>
<text transform="translate(2385.1 1647.1) scale(1 1.04)" font-size="80" text-anchor="end">300</text>
<text transform="translate(3272.85 3129.7) scale(1 1.01)" font-size="98" text-anchor="middle">Diameter (nm)</text>
<text transform="translate(2222.2 2259.05) rotate(-90) scale(1 1.025)" font-size="98" text-anchor="middle">Count</text>
<text transform="translate(3912.86 1777.65) scale(1 1.134)" font-size="110.59" text-anchor="start">Cu</text>
<rect x="3551.8" y="1845.6" width="435.6" height="120.7" fill="#fff" stroke="#000" stroke-width="1.6"/>
<rect x="3563.3" y="1857.4" width="194.6" height="95.8" fill="#D2F7E9" stroke="#0FD28C" stroke-width="2.4" stroke-linejoin="round"/>
<text transform="translate(3783.5 1935.9) scale(1 1.03)" font-size="88.9" text-anchor="start">1.3 s</text>
</g>
</svg>
</body></html>
